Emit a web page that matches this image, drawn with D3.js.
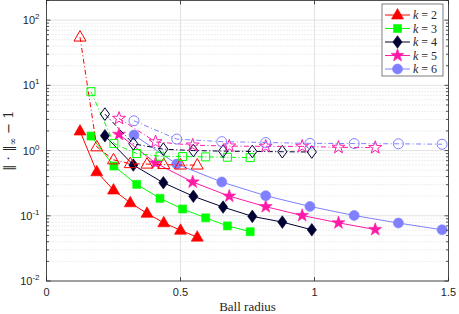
<!DOCTYPE html>
<html>
<head>
<meta charset="utf-8">
<script src="https://cdn.jsdelivr.net/npm/d3@7"></script>
<style>
  body { margin: 0; background: #fff; }
  text { fill: #262626; }
</style>
</head>
<body>
<svg width="459" height="314"></svg>
<script>
// DATA

var kValues = [2, 3, 4, 5, 6];
var colors = ["#ff0000", "#00ff00", "#000033", "#ff1aa8", "#8080ff"];
var shapes = ["triangle", "square", "diamond", "star", "circle"];

// ball radius for each k
var radiusK2 = [0.125, 0.1875, 0.25, 0.3125, 0.375, 0.4375, 0.5, 0.5625];
var radiusK3 = [0.166, 0.2515, 0.3365, 0.4235, 0.508, 0.594, 0.675, 0.760];
var radiusK4 = [0.218, 0.324, 0.436, 0.548, 0.659, 0.768, 0.880, 0.990];
var radiusK5 = [0.2705, 0.407, 0.5455, 0.682, 0.818, 0.954, 1.0895, 1.2265];
var radiusK6 = [0.3265, 0.486, 0.654, 0.818, 0.983, 1.148, 1.313, 1.476];

// filled markers, solid line
var filledK2 = [1.99, 0.473, 0.248, 0.158, 0.109, 0.078, 0.060, 0.047];
var filledK3 = [1.67, 0.579, 0.303, 0.185, 0.127, 0.093, 0.070, 0.057];
var filledK4 = [1.69, 0.60, 0.321, 0.199, 0.136, 0.098, 0.080, 0.061];
var filledK5 = [1.77, 0.643, 0.329, 0.200, 0.138, 0.101, 0.078, 0.0615];
var filledK6 = [1.73, 0.621, 0.329, 0.203, 0.139, 0.101, 0.0774, 0.061];

// open markers, dash-dot line
var openK2 = [55, 1.14, 0.72, 0.63, 0.62, 0.61, 0.60, 0.60];
var openK3 = [8.0, 1.28, 0.90, 0.82, 0.81, 0.80, 0.79, 0.78];
var openK4 = [3.62, 1.27, 1.05, 1.00, 0.98, 0.97, 0.96, 0.95];
var openK5 = [3.11, 1.36, 1.21, 1.17, 1.16, 1.16, 1.12, 1.11];
var openK6 = [2.86, 1.50, 1.37, 1.33, 1.29, 1.28, 1.27, 1.25];

var xTicks = [0, 0.5, 1, 1.5];
var xTickLabels = ["0", "0.5", "1", "1.5"];
var yExponents = [-2, -1, 0, 1, 2];

var radii = [radiusK2, radiusK3, radiusK4, radiusK5, radiusK6];
var filled = [filledK2, filledK3, filledK4, filledK5, filledK6];
var opened = [openK2, openK3, openK4, openK5, openK6];

// VIEW

var svg = d3.select("svg");
var plotLeft = 46.5, plotRight = 448.5, plotTop = 0.5, plotBottom = 281;

var x = d3.scaleLinear().domain([0, 1.5]).range([plotLeft, plotRight]);
var y = d3.scaleLog().domain([0.01, 200]).range([plotBottom, plotTop]);

var axisColor = "#262626";

// Marker paths, centred on 0,0
function markerPath(shape) {
  var p = d3.path();
  if (shape == "triangle") {
    p.moveTo(0, -6.5); p.lineTo(6, 4); p.lineTo(-6, 4); p.closePath();
  } else if (shape == "square") {
    p.rect(-4, -4, 8, 8);
  } else if (shape == "diamond") {
    p.moveTo(0, -6.3); p.lineTo(4.6, 0); p.lineTo(0, 6.3); p.lineTo(-4.6, 0); p.closePath();
  } else if (shape == "star") {
    for (var i = 0; i < 10; i++) {
      var r = (i % 2 == 0) ? 6.8 : 2.7;
      var a = -Math.PI / 2 + i * Math.PI / 5;
      if (i == 0) p.moveTo(r * Math.cos(a), r * Math.sin(a));
      else p.lineTo(r * Math.cos(a), r * Math.sin(a));
    }
    p.closePath();
  } else {
    p.arc(0, 0, 5, 0, 2 * Math.PI);
  }
  return p.toString();
}

// Grid
var grid = svg.append("g");
// minor y grid (dotted)
yExponents.forEach(function(e) {
  for (var m = 2; m <= 9; m++) {
    var v = m * Math.pow(10, e);
    if (v >= 200) continue;
    grid.append("line")
        .attr("x1", plotLeft).attr("x2", plotRight)
        .attr("y1", y(v)).attr("y2", y(v))
        .attr("stroke", "#c8c8c8").attr("stroke-width", 0.6)
        .attr("stroke-dasharray", "1,2");
  }
});
// major grid
yExponents.forEach(function(e) {
  grid.append("line")
      .attr("x1", plotLeft).attr("x2", plotRight)
      .attr("y1", y(Math.pow(10, e))).attr("y2", y(Math.pow(10, e)))
      .attr("stroke", "#e2e2e2").attr("stroke-width", 1);
});
xTicks.forEach(function(t) {
  grid.append("line")
      .attr("x1", x(t)).attr("x2", x(t))
      .attr("y1", plotTop).attr("y2", plotBottom)
      .attr("stroke", "#e2e2e2").attr("stroke-width", 1);
});

// Series
var line = d3.line()
    .x(function(d) { return x(d[0]); })
    .y(function(d) { return y(d[1]); });

function drawSeries(i, values, isOpen) {
  var pts = d3.zip(radii[i], values);
  var g = svg.append("g");
  g.append("path")
      .attr("d", line(pts))
      .attr("fill", "none")
      .attr("stroke", colors[i])
      .attr("stroke-width", 1)
      .attr("stroke-dasharray", isOpen ? "5,2.5,1,2.5" : null);
  g.selectAll(".m").data(pts).enter().append("path")
      .attr("d", markerPath(shapes[i]))
      .attr("transform", function(d) { return "translate(" + x(d[0]) + "," + y(d[1]) + ")"; })
      .attr("fill", isOpen ? "none" : colors[i])
      .attr("stroke", colors[i])
      .attr("stroke-width", isOpen ? 1 : 0.6);
}

kValues.forEach(function(k, i) { drawSeries(i, filled[i], false); });
kValues.forEach(function(k, i) { drawSeries(i, opened[i], true); });

// Axes box and ticks
var ax = svg.append("g").attr("stroke", axisColor).attr("stroke-width", 0.8).attr("fill", "none");
ax.append("rect").attr("x", plotLeft).attr("y", plotTop)
    .attr("width", plotRight - plotLeft).attr("height", plotBottom - plotTop);

xTicks.forEach(function(t) {
  ax.append("line").attr("x1", x(t)).attr("x2", x(t)).attr("y1", plotBottom).attr("y2", plotBottom - 4);
  ax.append("line").attr("x1", x(t)).attr("x2", x(t)).attr("y1", plotTop).attr("y2", plotTop + 4);
});
yExponents.forEach(function(e) {
  for (var m = 1; m <= 9; m++) {
    var v = m * Math.pow(10, e);
    if (v > 200) continue;
    var len = (m == 1) ? 4 : 2.5;
    ax.append("line").attr("x1", plotLeft).attr("x2", plotLeft + len).attr("y1", y(v)).attr("y2", y(v));
    ax.append("line").attr("x1", plotRight).attr("x2", plotRight - len).attr("y1", y(v)).attr("y2", y(v));
  }
});

// Tick labels
var tickFont = "'Liberation Sans', Arial, sans-serif";
svg.selectAll(".xt").data(xTicks).enter().append("text")
    .attr("x", function(d) { return x(d); })
    .attr("y", 296)
    .attr("text-anchor", "middle")
    .attr("font-family", tickFont)
    .attr("font-size", 11)
    .text(function(d, i) { return xTickLabels[i]; });

yExponents.forEach(function(e) {
  var t = svg.append("text")
      .attr("x", 39.5)
      .attr("y", y(Math.pow(10, e)) + 4)
      .attr("text-anchor", "end")
      .attr("font-family", tickFont)
      .attr("font-size", 11);
  t.append("tspan").text("10");
  t.append("tspan").attr("dy", -5).attr("font-size", 8).text(String(e));
});

// Axis titles
var serif = "'Liberation Serif', 'DejaVu Serif', serif";
svg.append("text")
    .attr("x", (plotLeft + plotRight) / 2)
    .attr("y", 311)
    .attr("text-anchor", "middle")
    .attr("font-family", serif)
    .attr("font-size", 13)
    .text("Ball radius");

var yl = svg.append("text")
    .attr("transform", "translate(13," + ((plotTop + plotBottom) / 2) + ") rotate(-90)")
    .attr("text-anchor", "middle")
    .attr("font-family", "'DejaVu Serif', serif")
    .attr("font-size", 13);
yl.append("tspan").text("\u2016 \u22C5 \u2016");
yl.append("tspan").attr("dy", 3).attr("font-size", 9).text("\u221E");
yl.append("tspan").attr("dy", -3).text(" \u2212 1");

// Legend
var lg = svg.append("g");
lg.append("rect")
    .attr("x", 382).attr("y", 4).attr("width", 61).attr("height", 72)
    .attr("fill", "#fff").attr("stroke", axisColor).attr("stroke-width", 0.6);

kValues.forEach(function(k, i) {
  var ry = 15 + i * 13.5;
  lg.append("line")
      .attr("x1", 385).attr("x2", 410).attr("y1", ry).attr("y2", ry)
      .attr("stroke", colors[i]).attr("stroke-width", 1);
  lg.append("path")
      .attr("d", markerPath(shapes[i]))
      .attr("transform", "translate(397.5," + ry + ")")
      .attr("fill", colors[i]).attr("stroke", colors[i]).attr("stroke-width", 0.6);
  var t = lg.append("text")
      .attr("x", 413).attr("y", ry + 4)
      .attr("font-family", serif).attr("font-size", 12);
  t.append("tspan").attr("font-style", "italic").text("k");
  t.append("tspan").text(" = " + k);
});
</script>
</body>
</html>
